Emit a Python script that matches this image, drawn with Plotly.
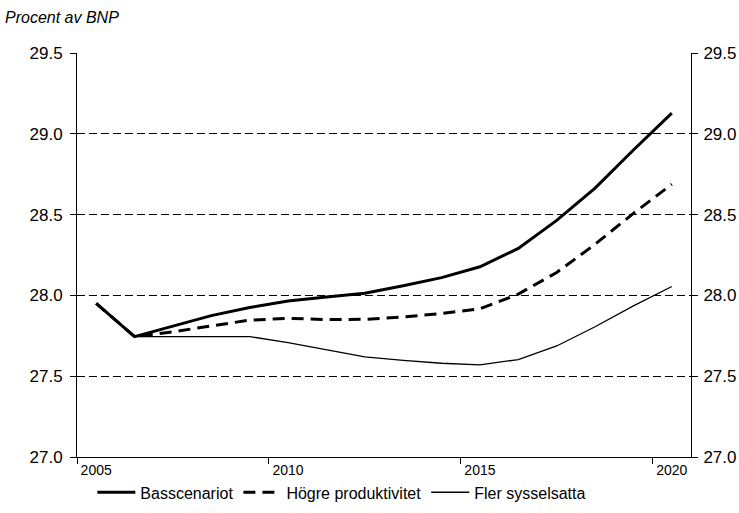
import plotly.graph_objects as go

years = list(range(2005, 2021))
basscenariot = [27.95, 27.745, 27.81, 27.875, 27.925, 27.965, 27.99, 28.013, 28.06, 28.11,
                28.177, 28.291, 28.464, 28.664, 28.90, 29.128]
hogre_produktivitet = [27.95, 27.745, 27.775, 27.812, 27.847, 27.858, 27.85, 27.852, 27.866, 27.888,
                       27.917, 28.008, 28.142, 28.316, 28.508, 28.688]
fler_sysselsatta = [27.95, 27.745, 27.745, 27.745, 27.745, 27.708, 27.665, 27.62, 27.598, 27.58,
                    27.57, 27.603, 27.687, 27.806, 27.935, 28.055]

x_tick_labels = ["2005", "2010", "2015", "2020"]
x_tick_vals = [2005, 2010, 2015, 2020]
x_minor_ticks = [2004.5, 2009.5, 2014.5, 2019.5]
y_ticks = [27.0, 27.5, 28.0, 28.5, 29.0, 29.5]

font_main = "Liberation Sans, Arial, sans-serif"

fig = go.Figure()
fig.add_trace(go.Scatter(x=years, y=basscenariot, name="Basscenariot", mode="lines",
                         line=dict(color="black", width=3)))
fig.add_trace(go.Scatter(x=years, y=hogre_produktivitet, name="Högre produktivitet", mode="lines",
                         line=dict(color="black", width=3, dash="12px,7px")))
fig.add_trace(go.Scatter(x=years, y=fler_sysselsatta, name="Fler sysselsatta", mode="lines",
                         line=dict(color="black", width=1.3)))
# invisible helper trace so the right-hand axis is drawn
fig.add_trace(go.Scatter(x=years, y=basscenariot, yaxis="y2", mode="lines", opacity=0,
                         showlegend=False, hoverinfo="skip", line=dict(color="black", width=1)))

fig.update_layout(
    width=739, height=513,
    margin=dict(l=77, r=48, t=53, b=56, autoexpand=False),
    paper_bgcolor="white", plot_bgcolor="white",
    font=dict(family=font_main, color="black"),
    title=dict(text="<i>Procent av BNP</i>", x=5 / 739, xanchor="left", xref="container",
               y=1 - 17 / 513, yanchor="middle", yref="container",
               font=dict(family=font_main, size=16, color="black")),
    xaxis=dict(range=[2004.5, 2020.5], tickmode="array", tickvals=x_tick_vals, ticktext=x_tick_labels,
               ticks="", showgrid=False, zeroline=False, showline=True, linecolor="black", linewidth=1,
               automargin=False,
               tickfont=dict(size=14, family=font_main, color="black"),
               minor=dict(tickmode="array", tickvals=x_minor_ticks, ticks="outside", ticklen=6,
                          tickcolor="black", tickwidth=1, showgrid=False)),
    yaxis=dict(range=[27.0, 29.5], tickmode="array", tickvals=y_ticks, tickformat=".1f",
               ticks="outside", ticklen=6, tickcolor="black", tickwidth=1, ticklabelstandoff=4,
               showgrid=True, gridcolor="black", gridwidth=1, griddash="8px,4px",
               zeroline=False, showline=True, linecolor="black", linewidth=1, automargin=False,
               tickfont=dict(size=17, family=font_main, color="black")),
    yaxis2=dict(range=[27.0, 29.5], overlaying="y", side="right", tickmode="array", tickvals=y_ticks,
                tickformat=".1f", ticks="outside", ticklen=6, tickcolor="black", tickwidth=1,
                ticklabelstandoff=2,
                showgrid=False, zeroline=False, showline=True, linecolor="black", linewidth=1,
                automargin=False,
                tickfont=dict(size=17, family=font_main, color="black")),
    legend=dict(orientation="h", x=0.025, xanchor="left", y=-0.0875, yanchor="middle",
                font=dict(size=16, family=font_main, color="black"),
                bgcolor="rgba(0,0,0,0)", itemwidth=38, tracegroupgap=0),
    showlegend=True,
)

fig.write_html("out.html",
               config={"displayModeBar": False},
               post_script="document.body.style.margin='0';document.body.style.overflow='hidden';")
